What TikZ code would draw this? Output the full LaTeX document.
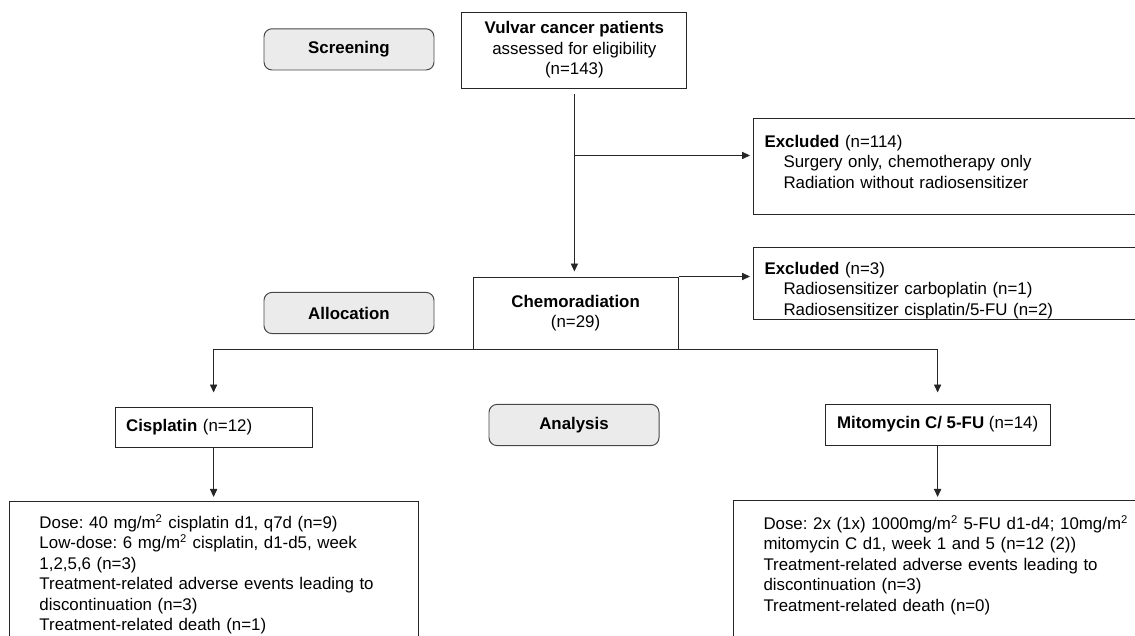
\documentclass[tikz,border=0pt]{standalone}
\usepackage{fontspec}
\setmainfont{Liberation Sans}
\frenchspacing
\usetikzlibrary{arrows.meta}
\definecolor{CRInk}{HTML}{262626}
\definecolor{CRFog}{HTML}{EBEBEB}

\begin{document}
\begin{tikzpicture}[
            >={Triangle[length=2mm,width=1.8mm]},
            line width=0.7pt,
            phase/.style={draw=CRInk!85,fill=CRFog,rounded corners=2mm,
              minimum width=4.25cm,minimum height=1.03cm,font=\fontsize{12}{14.5}\selectfont\bfseries},
            box/.style={draw=CRInk,align=center,inner sep=0pt,font=\fontsize{12}{14.5}\selectfont},
            note/.style={draw=CRInk,anchor=north west,align=left,inner ysep=0pt,
              font=\fontsize{12}{14.5}\selectfont},
            flow/.style={->,draw=CRInk}
          ]
          \path[use as bounding box] (0,0) rectangle (28.375,15.875);
          \clip (0,0) rectangle (28.375,15.875);
          \node[phase] (screen) at (8.725,14.64) {Screening};
          \node[phase] (alloc) at (8.725,8.05) {Allocation};
          \node[phase] (analysis) at (14.35,5.25) {Analysis};
          \node[box,minimum width=5.625cm,minimum height=1.9cm] (vulvar) at (14.36,14.625)
            {\textbf{Vulvar cancer patients}\\assessed for eligibility\\(n=143)};
          \node[box,minimum width=5.125cm,minimum height=1.8cm] (chemo) at (14.39,8.05)
            {\textbf{Chemoradiation}\\(n=29)};
          \node[box,text width=4.375cm,align=left,inner xsep=0.275cm,minimum height=1cm] (cis) at (5.34,5.2)
            {\textbf{Cisplatin} (n=12)};
          \node[box,minimum width=5.625cm,minimum height=1.03cm] (mito) at (23.44,5.26)
            {\textbf{Mitomycin C/ 5-FU} (n=14)};
          \node[note,text width=10.625cm,inner xsep=0.275cm,text height=0.725cm,text depth=1.675cm] (excla) at (18.825,12.925)
            {\textbf{Excluded} (n=114)\\
             \hspace*{0.475cm}Surgery only, chemotherapy only\\
             \hspace*{0.475cm}Radiation without radiosensitizer};
          \node[note,text width=10.625cm,inner xsep=0.275cm,text height=0.675cm,text depth=1.125cm] (exclb) at (18.825,9.7)
            {\textbf{Excluded} (n=3)\\
             \hspace*{0.475cm}Radiosensitizer carboplatin (n=1)\\
             \hspace*{0.475cm}Radiosensitizer cisplatin/5-FU (n=2)};
          \node[note,text width=8.725cm,inner xsep=0.75cm,text height=0.675cm,text depth=3.3cm] (dosea) at (0.225,3.35)
            {Dose: 40 mg/m\textsuperscript{2} cisplatin d1, q7d (n=9)\\
             Low-dose: 6 mg/m\textsuperscript{2} cisplatin, d1-d5, week\\
             1,2,5,6 (n=3)\\
             Treatment-related adverse events leading to\\
             discontinuation (n=3)\\
             Treatment-related death (n=1)};
          \node[note,text width=10.175cm,inner xsep=0.75cm,text height=0.725cm,text depth=3.3cm] (doseb) at (18.325,3.375)
            {Dose: 2x (1x) 1000mg/m\textsuperscript{2} 5-FU d1-d4; 10mg/m\textsuperscript{2}\\
             mitomycin C d1, week 1 and 5 (n=12 (2))\\
             Treatment-related adverse events leading to\\
             discontinuation (n=3)\\
             Treatment-related death (n=0)};
          \coordinate (split) at ([yshift=-1.675cm]vulvar.south);
          \draw[flow,shorten <=0.15cm,shorten >=0.125cm] (vulvar.south) -- (vulvar.south |- chemo.north);
          \draw[flow,shorten >=0.075cm] (split) -- (split -| excla.west);
          \draw[flow,shorten >=0.075cm] (chemo.north east) -- (chemo.north east -| exclb.west);
          \draw[<->,draw=CRInk,shorten <=0.35cm,shorten >=0.275cm] (cis.north) -- (cis.north |- chemo.south)
            -- (mito.north |- chemo.south) -- (mito.north);
          \draw[flow,shorten >=0.1cm] (cis.south) -- (cis.south |- dosea.north);
          \draw[flow,shorten >=0.075cm] (mito.south) -- (mito.south |- doseb.north);
        \end{tikzpicture}
\end{document}
